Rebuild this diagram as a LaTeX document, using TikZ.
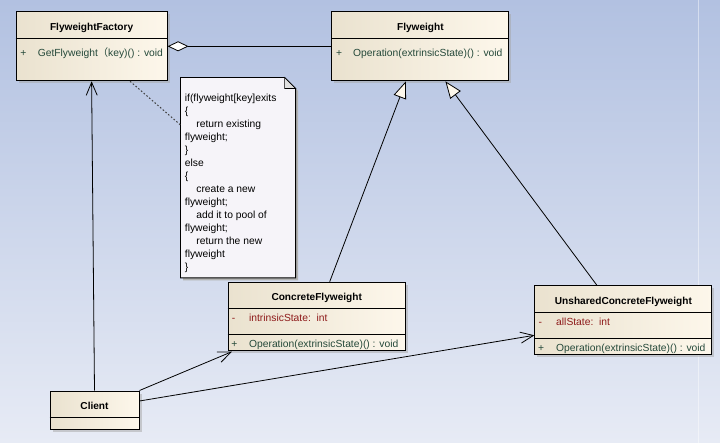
\documentclass[tikz,border=0pt]{standalone}
\usepackage{fontspec}
\setmainfont{Liberation Sans}
\newfontfamily\cjk{Noto Sans CJK SC}
\usetikzlibrary{arrows.meta,calc,shadows}
\definecolor{bgtop}{HTML}{B2C1E1}
\definecolor{bgbot}{HTML}{E7EBF5}
\definecolor{boxL}{HTML}{EAE2CF}
\definecolor{boxR}{HTML}{FDF7EB}
\definecolor{opcol}{HTML}{25493A}
\definecolor{attcol}{HTML}{8E1A1A}
\definecolor{notefill}{HTML}{F6F4F9}
\begin{document}
\begin{tikzpicture}[x=1pt,y=-1pt,
 umlbox/.style={draw=black, line width=1pt, rectangle, anchor=north west, inner sep=0pt,
   left color=boxL, right color=boxR,
   drop shadow={shadow xshift=2.5pt, shadow yshift=-2.5pt, fill=black!35}},
 notebox/.style={rectangle, anchor=north west, inner sep=0pt},
 sepline/.style={draw=black, line width=0.9pt},
 clsname/.style={font=\fontsize{10.1}{12}\selectfont\bfseries, anchor=base, inner sep=0pt},
 member/.style={font=\fontsize{10.3}{12}\selectfont, anchor=base west, inner sep=0pt, text=opcol},
 attr/.style={member, text=attcol},
 notetext/.style={font=\fontsize{10.3}{13}\selectfont, align=left, anchor=north west, inner sep=0pt},
 assoc/.style={draw=black, line width=0.8pt, -{Straight Barb[length=13pt,width=11pt]}},
 generalize/.style={draw=black, line width=0.8pt, -{Triangle[length=17pt,width=13pt,fill=boxR]}},
 aggregate/.style={draw=black, line width=0.8pt, {Diamond[length=21pt,width=10pt,fill=white]}-},
 notelink/.style={draw=black!75, line width=1pt, dash pattern=on 1.6pt off 2pt}
]
\useasboundingbox (0,0) rectangle (720,443);
\shade[top color=bgtop, bottom color=bgbot] (0,0) rectangle (720,443);
\draw[white, opacity=0.45, line width=1.2pt] (698.5,0) -- (698.5,443);

% class boxes
\node[umlbox, minimum width=151pt, minimum height=69pt] (ff) at (15.6,11.3) {};
\node[umlbox, minimum width=177pt, minimum height=69pt] (fw) at (331.4,11.3) {};
\node[umlbox, minimum width=177pt, minimum height=68.3pt] (cf) at (227.7,281.7) {};
\node[umlbox, minimum width=177pt, minimum height=69pt] (uc) at (534.4,285.3) {};
\node[umlbox, minimum width=89pt, minimum height=38pt] (cl) at (49.5,390.5) {};

% separators
\draw[sepline] ($(ff.north west)+(0,27)$) -- ($(ff.north east)+(0,27)$);
\draw[sepline] ($(fw.north west)+(0,27)$) -- ($(fw.north east)+(0,27)$);
\draw[sepline] ($(cf.north west)+(0,26.6)$) -- ($(cf.north east)+(0,26.6)$);
\draw[sepline] ($(cf.north west)+(0,52.3)$) -- ($(cf.north east)+(0,52.3)$);
\draw[sepline] ($(uc.north west)+(0,27.4)$) -- ($(uc.north east)+(0,27.4)$);
\draw[sepline] ($(uc.north west)+(0,53)$) -- ($(uc.north east)+(0,53)$);
\draw[sepline] ($(cl.north west)+(0,27)$) -- ($(cl.north east)+(0,27)$);

% texts
\node[clsname] (ffname) at ($(ff.north)+(0,19)$) {FlyweightFactory};
\node[member] (ffplus) at ($(ff.north west)+(4.5,45)$) {+};
\node[member] (ffop) at ($(ff.north west)+(22,45)$) {GetFlyweight{\cjk （}key)() : void};

\node[clsname] (fwname) at ($(fw.north)+(0,19)$) {Flyweight};
\node[member] (fwplus) at ($(fw.north west)+(4.4,45)$) {+};
\node[member] (fwop) at ($(fw.north west)+(21.6,45)$) {Operation(extrinsicState)() : void};

\node[clsname] (cfname) at ($(cf.north)+(0,18.6)$) {ConcreteFlyweight};
\node[attr] (cfminus) at ($(cf.north west)+(4,40.2)$) {-};
\node[attr] (cfatt) at ($(cf.north west)+(21.2,40.2)$) {intrinsicState:\ \ int};
\node[member] (cfplus) at ($(cf.north west)+(3.5,65.8)$) {+};
\node[member] (cfop) at ($(cf.north west)+(21.2,65.8)$) {Operation(extrinsicState)() : void};

\node[clsname] (ucname) at ($(uc.north)+(0,19)$) {UnsharedConcreteFlyweight};
\node[attr] (ucminus) at ($(uc.north west)+(4,40.6)$) {-};
\node[attr] (ucatt) at ($(uc.north west)+(21.6,40.6)$) {allState:\ \ int};
\node[member] (ucplus) at ($(uc.north west)+(3.6,66.4)$) {+};
\node[member] (ucop) at ($(uc.north west)+(21.6,66.4)$) {Operation(extrinsicState)() : void};

\node[clsname] (clname) at ($(cl.north)+(0,18.8)$) {Client};

% note
\node[notebox, minimum width=114.7pt, minimum height=200pt] (note) at (180.5,77.5) {};
\fill[black!30] ($(note.north west)+(2.5,2.5)$) -- ($(note.north east)+(-8.5,2.5)$) -- ($(note.north east)+(2.5,13.5)$) -- ($(note.south east)+(2.5,2.5)$) -- ($(note.south west)+(2.5,2.5)$) -- cycle;
\filldraw[fill=notefill, draw=black, line width=0.8pt] (note.north west) -- ($(note.north east)+(-11,0)$) -- ($(note.north east)+(0,11)$) -- (note.south east) -- (note.south west) -- cycle;
\draw[line width=0.6pt, fill=black!12] ($(note.north east)+(-11,0)$) -- ($(note.north east)+(-11,11)$) -- ($(note.north east)+(0,11)$) -- cycle;
\node[notetext] (notetxt) at ($(note.north west)+(4.2,16.3)$) {if(flyweight[key]exits\\
\{\\
\hspace*{11.5pt}return existing\\
flyweight;\\
\}\\
else\\
\{\\
\hspace*{11.5pt}create a new\\
flyweight;\\
\hspace*{11.5pt}add it to pool of\\
flyweight;\\
\hspace*{11.5pt}return the new\\
flyweight\\
\}};

% connectors
\coordinate (ffdot) at ($(ff.south west)+(114.5,0)$);
\coordinate (notedot) at ($(note.north west)+(0,47.5)$);
\draw[notelink] (ffdot) -- (notedot);

\draw[aggregate] (ff.east) -- (fw.west);

\coordinate (cfup) at ($(cf.north west)+(102,0)$);
\coordinate (fwin1) at ($(fw.south west)+(74.5,0)$);
\draw[generalize] (cfup) -- (fwin1);
\coordinate (ucup) at ($(uc.north west)+(62.5,0)$);
\coordinate (fwin2) at ($(fw.south west)+(114,0)$);
\draw[generalize] (ucup) -- (fwin2);

\draw[assoc] (cl.north) -- (ff.south);
\coordinate (cfin) at ($(cf.south west)+(4.2,0.7)$);
\draw[assoc] (cl.north east) -- (cfin);
\coordinate (clout) at ($(cl.north east)+(0,10.5)$);
\coordinate (ucin) at ($(uc.south west)+(0,-20)$);
\draw[assoc] (clout) -- (ucin);
\end{tikzpicture}
\end{document}
